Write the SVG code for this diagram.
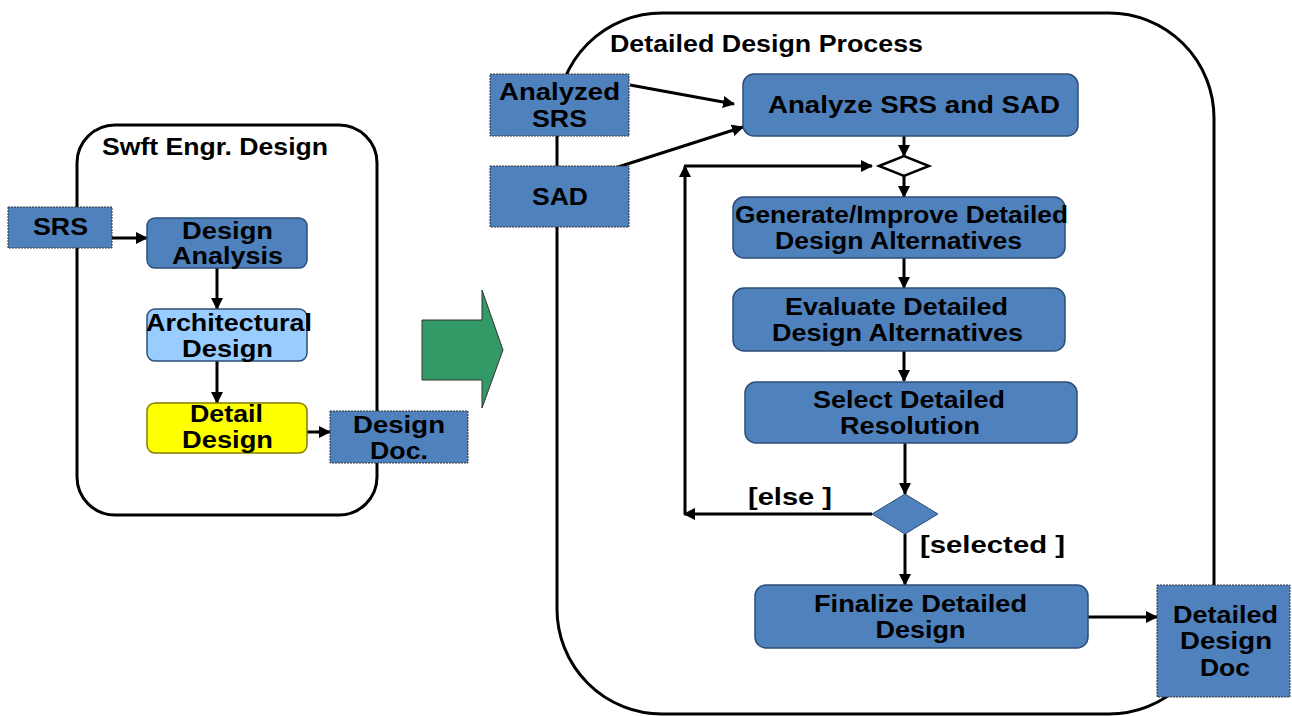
<svg xmlns="http://www.w3.org/2000/svg" width="1292" height="716" viewBox="0 0 1292 716">
<style>
text{font-family:"Liberation Sans",Arial,sans-serif;font-weight:bold;font-size:23px;fill:#000}
.mid{text-anchor:middle}
.cont{fill:#fff;stroke:#000;stroke-width:3}
.act{fill:#4f81bd;stroke:#2c4d75;stroke-width:1.5}
.obj{fill:#4f81bd;stroke:#333;stroke-width:1;stroke-dasharray:2 1}
.conn{fill:none;stroke:#000;stroke-width:3;marker-end:url(#ah)}
</style>
<defs>
<marker id="ah" markerUnits="userSpaceOnUse" markerWidth="12" markerHeight="12" refX="11" refY="6" orient="auto">
<path d="M0,0 L12,6 L0,12 z" fill="#000"/>
</marker>
</defs>
<rect width="1292" height="716" fill="#fff"/>

<g id="left-container">
<rect class="cont" x="77" y="125" width="300" height="390" rx="38" ry="38"/>
<text x="102" y="155" textLength="226" lengthAdjust="spacingAndGlyphs">Swft Engr. Design</text>
</g>

<g id="right-container">
<rect class="cont" x="557" y="13" width="657" height="701" rx="105" ry="105"/>
<text x="610" y="52" textLength="313" lengthAdjust="spacingAndGlyphs">Detailed Design Process</text>
</g>

<g id="big-arrow">
<path d="M422,320 L482,320 L482,290 L503,350 L482,408 L482,380 L422,380 z" fill="#339966" stroke="#333" stroke-width="1"/>
</g>

<g id="connectors">
<line class="conn" x1="112" y1="238" x2="147" y2="238"/>
<line class="conn" x1="217" y1="268" x2="217" y2="309"/>
<line class="conn" x1="217" y1="361" x2="217" y2="403"/>
<line class="conn" x1="307" y1="432" x2="330" y2="432"/>
<line class="conn" x1="630" y1="85" x2="734" y2="104"/>
<line class="conn" x1="618" y1="167" x2="743" y2="127"/>
<line class="conn" x1="904" y1="136" x2="904" y2="156"/>
<line class="conn" x1="904" y1="176" x2="904" y2="197"/>
<line class="conn" x1="904" y1="258" x2="904" y2="288"/>
<line class="conn" x1="904" y1="351" x2="904" y2="381"/>
<line class="conn" x1="905" y1="443" x2="905" y2="494"/>
<line class="conn" x1="905" y1="534" x2="905" y2="585"/>
<line class="conn" x1="872" y1="514" x2="684" y2="514"/>
<line class="conn" x1="685" y1="514" x2="685" y2="166"/>
<line class="conn" x1="684" y1="166" x2="872" y2="166"/>
<line class="conn" x1="1088" y1="617" x2="1157" y2="617"/>
</g>

<g id="srs">
<rect class="obj" x="8" y="207" width="104" height="41"/>
<text class="mid" x="60.5" y="235" textLength="55" lengthAdjust="spacingAndGlyphs">SRS</text>
</g>
<g id="design-analysis">
<rect class="act" x="147" y="218" width="160" height="50" rx="8"/>
<text class="mid" x="227.5" y="239" textLength="91" lengthAdjust="spacingAndGlyphs">Design</text>
<text class="mid" x="227.5" y="264" textLength="111" lengthAdjust="spacingAndGlyphs">Analysis</text>
</g>
<g id="architectural-design">
<rect x="147" y="309" width="160" height="52" rx="8" fill="#99ccff" stroke="#2c4d75" stroke-width="1.5"/>
<text class="mid" x="229" y="331" textLength="166" lengthAdjust="spacingAndGlyphs">Architectural</text>
<text class="mid" x="227.5" y="357" textLength="91" lengthAdjust="spacingAndGlyphs">Design</text>
</g>
<g id="detail-design">
<rect x="147" y="403" width="160" height="50" rx="8" fill="#ffff00" stroke="#7f7f00" stroke-width="1.5"/>
<text class="mid" x="226.5" y="422" textLength="73" lengthAdjust="spacingAndGlyphs">Detail</text>
<text class="mid" x="227.5" y="448" textLength="91" lengthAdjust="spacingAndGlyphs">Design</text>
</g>
<g id="design-doc">
<rect class="obj" x="330" y="411" width="138" height="52"/>
<text class="mid" x="399" y="433" textLength="92" lengthAdjust="spacingAndGlyphs">Design</text>
<text class="mid" x="399" y="459" textLength="58" lengthAdjust="spacingAndGlyphs">Doc.</text>
</g>

<g id="analyzed-srs">
<rect class="obj" x="490" y="74" width="139" height="62"/>
<text class="mid" x="559.5" y="100" textLength="121" lengthAdjust="spacingAndGlyphs">Analyzed</text>
<text class="mid" x="559.5" y="127" textLength="55" lengthAdjust="spacingAndGlyphs">SRS</text>
</g>
<g id="sad">
<rect class="obj" x="490" y="166" width="139" height="61"/>
<text class="mid" x="560" y="205" textLength="56" lengthAdjust="spacingAndGlyphs">SAD</text>
</g>
<g id="analyze-srs-sad">
<rect class="act" x="743" y="74" width="335" height="62" rx="11"/>
<text class="mid" x="914" y="113" textLength="292" lengthAdjust="spacingAndGlyphs">Analyze SRS and SAD</text>
</g>
<g id="merge-diamond">
<path d="M879,166 L904,156 L929,166 L904,176 z" fill="#fff" stroke="#000" stroke-width="2.5"/>
</g>
<g id="generate">
<rect class="act" x="733" y="197" width="332" height="61" rx="11"/>
<text class="mid" x="901.5" y="223" textLength="333" lengthAdjust="spacingAndGlyphs">Generate/Improve Detailed</text>
<text class="mid" x="898.5" y="249" textLength="247" lengthAdjust="spacingAndGlyphs">Design Alternatives</text>
</g>
<g id="evaluate">
<rect class="act" x="733" y="288" width="332" height="63" rx="11"/>
<text class="mid" x="896.5" y="315" textLength="223" lengthAdjust="spacingAndGlyphs">Evaluate Detailed</text>
<text class="mid" x="897.5" y="341" textLength="251" lengthAdjust="spacingAndGlyphs">Design Alternatives</text>
</g>
<g id="select">
<rect class="act" x="745" y="382" width="332" height="61" rx="11"/>
<text class="mid" x="909" y="408" textLength="192" lengthAdjust="spacingAndGlyphs">Select Detailed</text>
<text class="mid" x="910" y="434" textLength="140" lengthAdjust="spacingAndGlyphs">Resolution</text>
</g>
<g id="decision">
<path d="M872,514 L905,494 L938,514 L905,534 z" fill="#4f81bd" stroke="#2c4d75" stroke-width="1"/>
<text x="748" y="505" textLength="84" lengthAdjust="spacingAndGlyphs">[else ]</text>
<text x="920" y="553" textLength="145" lengthAdjust="spacingAndGlyphs">[selected ]</text>
</g>
<g id="finalize">
<rect class="act" x="755" y="585" width="333" height="63" rx="11"/>
<text class="mid" x="920.5" y="612" textLength="213" lengthAdjust="spacingAndGlyphs">Finalize Detailed</text>
<text class="mid" x="920.5" y="638" textLength="90" lengthAdjust="spacingAndGlyphs">Design</text>
</g>
<g id="detailed-design-doc">
<rect class="obj" x="1157" y="585" width="133" height="112"/>
<text class="mid" x="1225.5" y="623" textLength="105" lengthAdjust="spacingAndGlyphs">Detailed</text>
<text class="mid" x="1226" y="649" textLength="92" lengthAdjust="spacingAndGlyphs">Design</text>
<text class="mid" x="1225" y="676" textLength="50" lengthAdjust="spacingAndGlyphs">Doc</text>
</g>
</svg>
